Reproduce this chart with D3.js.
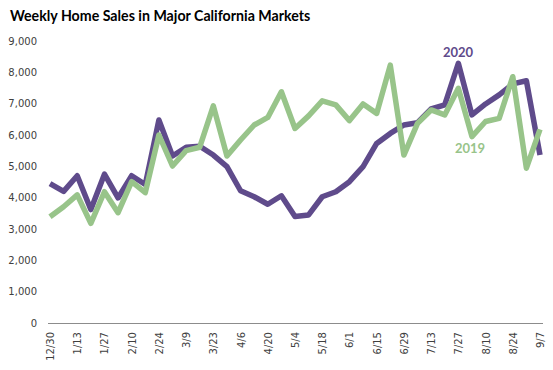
<!DOCTYPE html>
<html><head><meta charset="utf-8">
<script src="https://cdn.jsdelivr.net/npm/d3@7"></script>
<style>body{margin:0;background:#fff}svg{display:block}</style>
</head><body>
<svg id="c" width="553" height="370"></svg>
<script>
const weeks = ["12/30","1/6","1/13","1/20","1/27","2/3","2/10","2/17","2/24","3/2","3/9","3/16","3/23","3/30","4/6","4/13","4/20","4/27","5/4","5/11","5/18","5/25","6/1","6/8","6/15","6/22","6/29","7/6","7/13","7/20","7/27","8/3","8/10","8/17","8/24","8/31","9/7"];
const sales2020 = [4450,4200,4700,3620,4750,3990,4700,4420,6480,5330,5610,5640,5360,4990,4220,4030,3790,4060,3400,3450,4030,4190,4510,4990,5730,6050,6320,6390,6830,6960,8290,6640,6990,7280,7630,7730,5360];
const sales2019 = [3390,3710,4090,3180,4190,3520,4510,4160,6000,5010,5500,5610,6930,5330,5840,6320,6560,7380,6210,6610,7090,6960,6460,6990,6690,8230,5360,6370,6800,6640,7490,5950,6430,6530,7860,4940,6180];
const yTicks = [0,1000,2000,3000,4000,5000,6000,7000,8000,9000];
const shownLabels = weeks.filter((d,i)=>i%2===0);
const title = "Weekly Home Sales in Major California Markets";

const svg = d3.select("#c");
const x = d3.scalePoint().domain(weeks).range([50, 540]);
const y = d3.scaleLinear().domain([0, 9000]).range([323, 41]);
const purple = "#5F4B8B", green = "#98C48A", txt = "#404040";

svg.append("text").attr("x", 10).attr("y", 21).text(title)
  .attr("font-family", "Lato, 'Open Sans', sans-serif").attr("font-weight", "bold")
  .attr("font-size", 14.2).attr("fill", "#000");

// y axis labels
const yAxis = d3.axisLeft(y).tickValues(yTicks).tickSize(0).tickPadding(0)
  .tickFormat(d3.format(","));
const ga = svg.append("g").attr("transform", "translate(37,0)").call(yAxis);
ga.select(".domain").remove();
ga.selectAll("text").attr("font-family", "'DejaVu Sans', sans-serif").attr("font-size", 10).attr("fill", txt);

// x axis
const xAxis = d3.axisBottom(x).tickValues(shownLabels).tickSize(0).tickPadding(0);
const gx = svg.append("g").attr("transform", "translate(0,323)").call(xAxis);
gx.select(".domain").remove();
gx.selectAll("text")
  .attr("font-family", "'DejaVu Sans', sans-serif").attr("font-size", 10).attr("fill", txt)
  .attr("text-anchor", "end").attr("transform", "rotate(-90)")
  .attr("x", -9).attr("y", 0).attr("dy", "0.35em");
svg.append("line").attr("x1", 48).attr("x2", 543).attr("y1", 323.5).attr("y2", 323.5)
  .attr("stroke", "#8c8c8c").attr("stroke-width", 1);

const line = d3.line().x((d,i)=>x(weeks[i])).y(d=>y(d));
[[sales2020, purple], [sales2019, green]].forEach(([data, col]) => {
  svg.append("path").datum(data).attr("d", line).attr("fill", "none")
    .attr("stroke", col).attr("stroke-width", 5.5)
    .attr("stroke-linejoin", "round").attr("stroke-linecap", "butt");
});

svg.append("text").attr("x", 458).attr("y", 57).attr("text-anchor", "middle").text("2020")
  .attr("font-family", "Lato, sans-serif").attr("font-weight", "bold").attr("font-size", 13).attr("fill", purple);
svg.append("text").attr("x", 470).attr("y", 153).attr("text-anchor", "middle").text("2019")
  .attr("font-family", "Lato, sans-serif").attr("font-weight", "bold").attr("font-size", 13).attr("fill", green);
</script>
</body></html>
